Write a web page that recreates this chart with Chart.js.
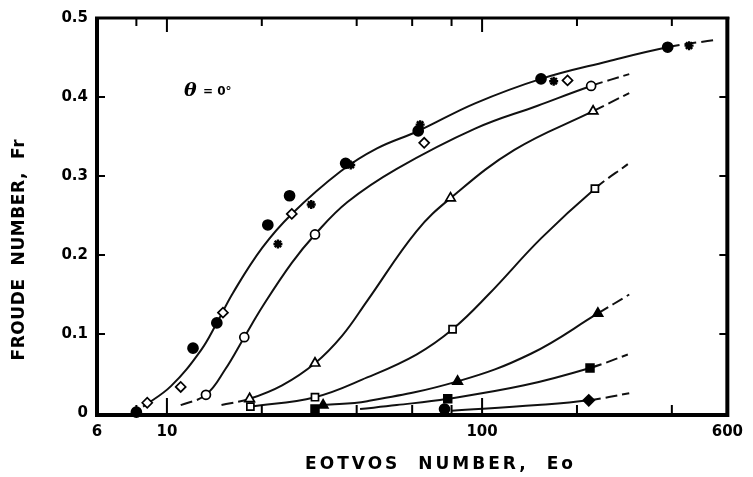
<!DOCTYPE html>
<html>
<head>
<meta charset="utf-8">
<script src="https://cdn.jsdelivr.net/npm/chart.js@4.4.1/dist/chart.umd.min.js"></script>
<style>
  body { margin: 0; background: #fff; }
  canvas { display: block; }
</style>
</head>
<body>
<canvas id="froudeChart" width="753" height="477"></canvas>
<script>
// measured points, one array per marker type
const filledCircleX = [8.0, 12.1, 14.4, 20.9, 24.5, 36.9, 62.7, 153.8, 388, 76];
const filledCircleY = [0.001, 0.082, 0.114, 0.238, 0.275, 0.316, 0.357, 0.423, 0.463, 0.005];
const starX = [22.5, 28.7, 38.3, 63.6, 168.7, 453.6];
const starY = [0.214, 0.264, 0.314, 0.365, 0.420, 0.465];
const openDiamondX = [8.66, 11.06, 15.06, 24.9, 65.5, 186.7];
const openDiamondY = [0.013, 0.033, 0.127, 0.252, 0.342, 0.421];
const openCircleX = [13.3, 17.6, 29.5, 221.8];
const openCircleY = [0.023, 0.096, 0.226, 0.414];
const openTriangleX = [18.3, 29.5, 79.4, 225];
const openTriangleY = [0.018, 0.063, 0.272, 0.382];
const openSquareX = [18.4, 29.5, 80.6, 228];
const openSquareY = [0.008, 0.020, 0.106, 0.284];
const filledTriangleX = [31.3, 83.6, 233];
const filledTriangleY = [0.010, 0.040, 0.126];
const filledSquareX = [29.5, 77.8, 220];
const filledSquareY = [0.005, 0.018, 0.057];
const filledDiamondX = [218];
const filledDiamondY = [0.016];

// faired curves through each family
const curveAX = [8.4, 10.3, 12.8, 14.4, 16.2, 20.05, 24.9, 35.6, 46.4, 62.7, 95, 153.8, 250, 388, 543];
const curveAY = [0.008, 0.034, 0.079, 0.114, 0.152, 0.209, 0.252, 0.306, 0.335, 0.357, 0.392, 0.423, 0.445, 0.463, 0.472];
const curveBX = [11.06, 13.3, 15.3, 17.6, 20.2, 24.9, 29.5, 37.4, 53.6, 95, 150, 221.8, 293];
const curveBY = [0.010, 0.023, 0.055, 0.096, 0.136, 0.190, 0.226, 0.267, 0.309, 0.360, 0.389, 0.414, 0.429];
const curveCX = [14.9, 18.3, 23.2, 29.5, 36, 43.2, 61.9, 79.4, 126.6, 225, 293];
const curveCY = [0.010, 0.018, 0.035, 0.063, 0.098, 0.142, 0.230, 0.272, 0.333, 0.382, 0.405];
const curveDX = [18.4, 29.5, 43.2, 61.9, 80.6, 104.8, 153.8, 228, 290];
const curveDY = [0.008, 0.020, 0.045, 0.074, 0.106, 0.150, 0.221, 0.284, 0.315];
const curveEX = [31.3, 43.2, 83.6, 142.8, 233, 293];
const curveEY = [0.010, 0.015, 0.040, 0.075, 0.126, 0.150];
const curveFX = [41, 53.6, 77.8, 136, 220, 290];
const curveFY = [0.005, 0.010, 0.018, 0.035, 0.057, 0.074];
const curveGX = [80, 150, 218, 293];
const curveGY = [0.003, 0.010, 0.016, 0.025];

// [dashed below, dashed above] for each curve
const curveSolid = [[8.4, 388], [13.3, 221.8], [18.3, 225], [18.4, 228], [31.3, 233], [41, 220], [80, 218]];

const xTickValues = [6, 8, 10, 20, 40, 60, 80, 100, 200, 400, 600];
const xTickLabels = [6, 10, 100, 600];
const yTickInner = [0.1, 0.2, 0.3, 0.4];
const xMajorTicks = [10, 100];
const xMinorTicks = [8, 20, 40, 60, 80, 200, 400];

const xTitle = "EOTVOS  NUMBER,  Eo";
const yTitle = "FROUDE  NUMBER,  Fr";

function pts(xs, ys) {
    return xs.map((x, i) => ({ x: x, y: ys[i] }));
}

function markers(xs, ys, style, radius, filled) {
    return {
        data: pts(xs, ys),
        showLine: false,
        pointStyle: style,
        pointRadius: radius,
        pointBorderWidth: style === "star" ? 2.4 : 1.7,
        borderColor: "#000",
        backgroundColor: filled ? "#000" : "#fff",
        clip: false,
        order: 1
    };
}

function curve(xs, ys, solid) {
    return {
        data: pts(xs, ys),
        showLine: true,
        pointRadius: 0,
        borderColor: "#111",
        borderWidth: 2,
        tension: 0.4,
        segment: {
            borderDash: ctx => (ctx.p1.parsed.x <= solid[0] || ctx.p0.parsed.x >= solid[1]) ? [12, 5] : undefined
        },
        order: 2
    };
}

// frame, inward ticks, axis titles and the angle note
const decorations = {
    id: "decorations",
    afterDraw(chart) {
        const ctx = chart.ctx;
        const a = chart.chartArea;
        const xs = chart.scales.x, ys = chart.scales.y;
        ctx.save();
        ctx.strokeStyle = "#000";
        ctx.lineCap = "butt";

        ctx.lineWidth = 2;
        ctx.beginPath();
        for (const v of yTickInner) {
            const py = ys.getPixelForValue(v);
            ctx.moveTo(a.left, py); ctx.lineTo(a.left + 8, py);
            ctx.moveTo(a.right, py); ctx.lineTo(a.right - 8, py);
        }
        for (const v of xMinorTicks) {
            const px = xs.getPixelForValue(v);
            ctx.moveTo(px, a.top); ctx.lineTo(px, a.top + 8);
            ctx.moveTo(px, a.bottom); ctx.lineTo(px, a.bottom - 8);
        }
        for (const v of xMajorTicks) {
            const px = xs.getPixelForValue(v);
            ctx.moveTo(px, a.top); ctx.lineTo(px, a.top + 14);
            ctx.moveTo(px, a.bottom); ctx.lineTo(px, a.bottom - 15);
        }
        ctx.stroke();

        ctx.lineWidth = 4;
        ctx.beginPath();
        ctx.moveTo(a.left, a.top - 1); ctx.lineTo(a.left, a.bottom + 2);
        ctx.lineTo(a.right, a.bottom + 2);
        ctx.lineTo(a.right, a.top - 1);
        ctx.stroke();
        ctx.lineWidth = 3;
        ctx.beginPath();
        ctx.moveTo(a.left - 2, a.top); ctx.lineTo(a.right + 2, a.top);
        ctx.stroke();

        ctx.fillStyle = "#000";
        ctx.textBaseline = "middle";
        ctx.textAlign = "center";
        ctx.font = "bold 17px 'DejaVu Sans'";
        fitText(ctx, xTitle, 439, 465, 268, 0);
        fitText(ctx, yTitle, 20, 250, 221, -Math.PI / 2);

        ctx.textAlign = "left";
        ctx.textBaseline = "alphabetic";
        ctx.font = "italic bold 19px 'DejaVu Serif'";
        ctx.fillText("\u03B8", 184, 96);
        ctx.font = "bold 12px 'DejaVu Sans'";
        ctx.fillText("= 0\u00B0", 203, 95);
        ctx.restore();
    }
};

// spread letters so the title spans a given width
function fitText(ctx, text, x, y, width, angle) {
    ctx.save();
    ctx.letterSpacing = "0px";
    const w = ctx.measureText(text).width;
    const gap = (width - w) / (text.length - 1);
    ctx.letterSpacing = gap.toFixed(2) + "px";
    ctx.translate(x, y);
    ctx.rotate(angle);
    ctx.fillText(text, gap / 2, 0);
    ctx.restore();
}

const tickFont = { family: "'DejaVu Sans'", size: 15, weight: "bold" };

new Chart(document.getElementById("froudeChart"), {
    type: "scatter",
    data: {
        datasets: [
            markers(filledCircleX, filledCircleY, "circle", 5, true),
            markers(starX, starY, "star", 4.5, false),
            markers(openDiamondX, openDiamondY, "rectRot", 5, false),
            markers(openCircleX, openCircleY, "circle", 4.5, false),
            markers(openTriangleX, openTriangleY, "triangle", 5.5, false),
            markers(openSquareX, openSquareY, "rect", 5, false),
            markers(filledTriangleX, filledTriangleY, "triangle", 5.5, true),
            markers(filledSquareX, filledSquareY, "rect", 5.5, true),
            markers(filledDiamondX, filledDiamondY, "rectRot", 5.5, true),
            curve(curveAX, curveAY, curveSolid[0]),
            curve(curveBX, curveBY, curveSolid[1]),
            curve(curveCX, curveCY, curveSolid[2]),
            curve(curveDX, curveDY, curveSolid[3]),
            curve(curveEX, curveEY, curveSolid[4]),
            curve(curveFX, curveFY, curveSolid[5]),
            curve(curveGX, curveGY, curveSolid[6])
        ]
    },
    options: {
        responsive: false,
        animation: false,
        devicePixelRatio: 1,
        events: [],
        layout: { padding: { left: 0, right: 18, top: 16, bottom: 0 } },
        plugins: {
            legend: { display: false },
            tooltip: { enabled: false }
        },
        scales: {
            x: {
                type: "logarithmic",
                min: 6,
                max: 600,
                afterBuildTicks: s => { s.ticks = xTickValues.map(v => ({ value: v })); },
                afterFit: s => { s.height = 64; },
                ticks: {
                    autoSkip: false,
                    maxRotation: 0,
                    padding: 10,
                    color: "#000",
                    font: tickFont,
                    callback: v => xTickLabels.includes(v) ? String(v) : ""
                },
                grid: { display: false, drawTicks: false },
                border: { display: false }
            },
            y: {
                min: 0,
                max: 0.5,
                afterFit: s => { s.width = 97; },
                ticks: {
                    stepSize: 0.1,
                    padding: 9,
                    color: "#000",
                    font: tickFont,
                    callback: v => v === 0 ? "0" : v.toFixed(1)
                },
                grid: { display: false, drawTicks: false },
                border: { display: false }
            }
        }
    },
    plugins: [decorations]
});
</script>
</body>
</html>
